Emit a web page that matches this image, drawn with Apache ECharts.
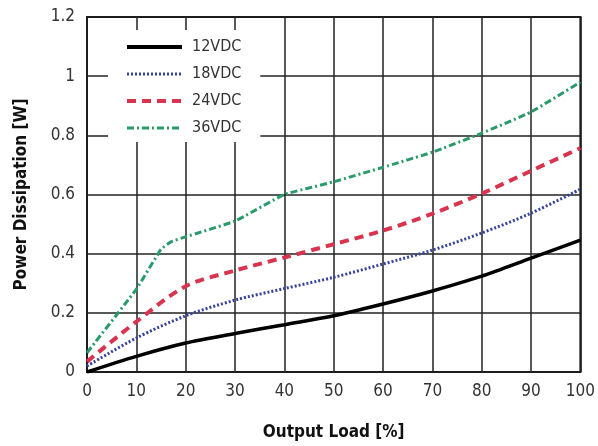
<!DOCTYPE html>
<html>
<head>
<meta charset="utf-8">
<script src="https://cdn.jsdelivr.net/npm/echarts@6/dist/echarts.min.js"></script>
<style>
html, body { margin: 0; padding: 0; background: #fff; }
#main { width: 598px; height: 446px; }
</style>
</head>
<body>
<div id="main"></div>
<script>
// 读图所得数据
var loads = [0, 10, 20, 30, 40, 50, 60, 70, 80, 90, 100];
var loads36 = [0, 10, 15, 17, 20, 30, 40, 50, 60, 70, 80, 90, 100];
var v12 = [0, 0.053, 0.098, 0.13, 0.16, 0.19, 0.23, 0.274, 0.324, 0.385, 0.446];
var v18 = [0.02, 0.115, 0.19, 0.243, 0.282, 0.32, 0.365, 0.412, 0.47, 0.537, 0.618];
var v24 = [0.035, 0.17, 0.29, 0.343, 0.387, 0.432, 0.478, 0.535, 0.603, 0.68, 0.757];
var v36 = [0.065, 0.28, 0.415, 0.44, 0.457, 0.51, 0.6, 0.643, 0.692, 0.743, 0.807, 0.879, 0.98];
var names = ['12VDC', '18VDC', '24VDC', '36VDC'];

var FONT = '"Liberation Sans Narrow", "DejaVu Sans Condensed", "Liberation Sans", sans-serif';

function pairs(xs, ys) {
	var out = [];
	for (var i = 0; i < xs.length; i++) {
		out.push([xs[i], ys[i]]);
	}
	return out;
}

var myChart = echarts.init(document.getElementById('main'));
var option = {
	animation: false,
	backgroundColor: '#fff',
	textStyle: { fontFamily: FONT },
	grid: {
		left: 87, right: 15, top: 17, bottom: 74,
		show: true, borderColor: '#111', borderWidth: 2
	},
	legend: {
		orient: 'vertical',
		left: 108, top: 30,
		padding: [9, 19, 6, 17],
		backgroundColor: '#fff',
		itemWidth: 55, itemHeight: 14, itemGap: 11,
		itemStyle: { opacity: 0 },
		data: [
			{ name: names[0], lineStyle: { width: 4 } },
			{ name: names[1], lineStyle: { width: 3 } },
			{ name: names[2], lineStyle: { width: 4 } },
			{ name: names[3], lineStyle: { width: 3 } }
		],
		textStyle: { fontSize: 16, color: '#333', fontFamily: FONT, padding: [0, 0, 0, 5] }
	},
	xAxis: {
		type: 'value', min: 0, max: 100, interval: 10,
		name: 'Output Load [%]', nameLocation: 'middle', nameGap: 52,
		nameTextStyle: { fontSize: 17, fontWeight: 'bold', color: '#111', fontFamily: FONT },
		axisLine: { show: false },
		axisTick: { show: false },
		axisLabel: { fontSize: 17, color: '#333', margin: 11, fontFamily: FONT },
		splitLine: { lineStyle: { color: '#222', width: 1.5 } }
	},
	yAxis: {
		type: 'value', min: 0, max: 1.2, interval: 0.2,
		name: 'Power Dissipation [W]', nameLocation: 'middle', nameGap: 57,
		nameTextStyle: { fontSize: 17, fontWeight: 'bold', color: '#111', fontFamily: FONT },
		axisLine: { show: false },
		axisTick: { show: false },
		axisLabel: { fontSize: 17, color: '#333', margin: 12, fontFamily: FONT,
			formatter: function (v) { return String(Math.round(v * 10) / 10); } },
		splitLine: { lineStyle: { color: '#222', width: 1.5 } }
	},
	series: [
		{ name: names[0], type: 'line', symbol: 'none', smooth: 0.3, color: '#000',
		  lineStyle: { color: '#000', width: 3.5, type: 'solid' }, data: pairs(loads, v12) },
		{ name: names[1], type: 'line', symbol: 'none', smooth: 0.3, color: '#34449a',
		  lineStyle: { color: '#34449a', width: 3, type: [2, 2] }, data: pairs(loads, v18) },
		{ name: names[2], type: 'line', symbol: 'none', smooth: 0.3, color: '#d8344f',
		  lineStyle: { color: '#d8344f', width: 4, type: [9, 6] }, data: pairs(loads, v24) },
		{ name: names[3], type: 'line', symbol: 'none', smooth: 0.1, color: '#2a9a6b',
		  lineStyle: { color: '#2a9a6b', width: 3, type: [7, 3, 2, 3] }, data: pairs(loads36, v36) }
	]
};
myChart.setOption(option);
</script>
</body>
</html>
